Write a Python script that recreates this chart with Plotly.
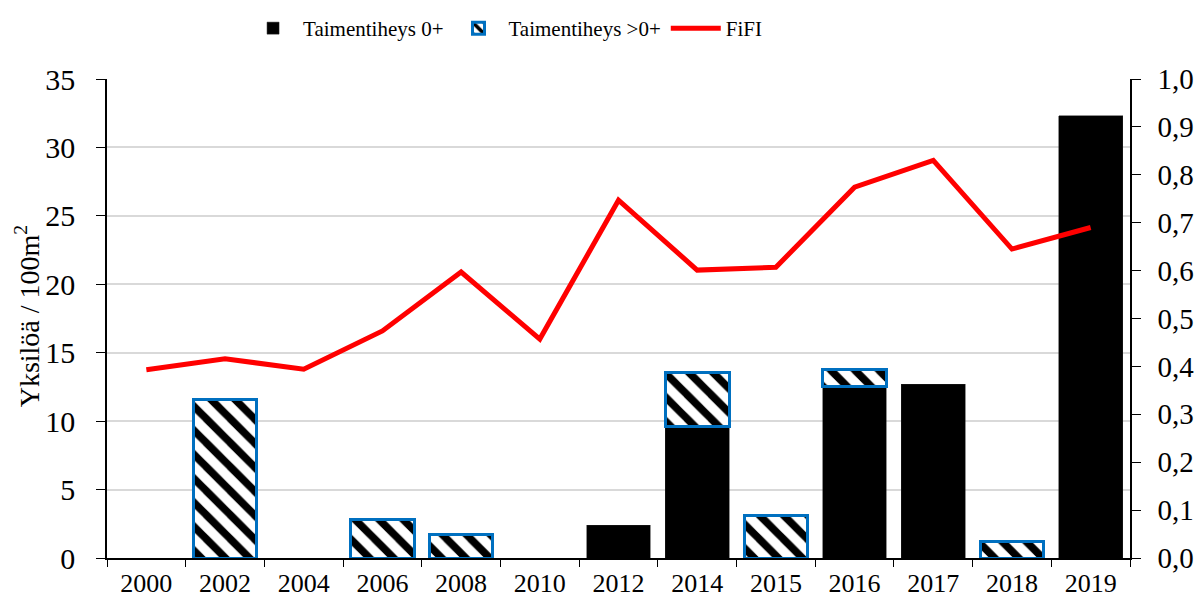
import plotly.graph_objects as go

years = ["2000", "2002", "2004", "2006", "2008", "2010", "2012",
         "2014", "2015", "2016", "2017", "2018", "2019"]
tiheys_0 = [None, None, None, None, None, None, 2.4,
            9.6, None, 12.5, 12.7, None, 32.3]
tiheys_yli0 = [None, 11.6, None, 2.85, 1.75, None, None,
               3.95, 3.1, 1.25, None, 1.2, None]
fifi = [0.393, 0.416, 0.394, 0.474, 0.597, 0.457, 0.747,
        0.601, 0.607, 0.774, 0.830, 0.645, 0.690]

FONT = "'Liberation Serif', 'DejaVu Serif', serif"

fig = go.Figure()

fig.add_trace(go.Bar(
    x=years, y=tiheys_0, name="Taimentiheys 0+",
    marker=dict(color="black", line=dict(color="#222222", width=0.5)),
))
fig.add_trace(go.Bar(
    x=years, y=tiheys_yli0, name="Taimentiheys >0+",
    marker=dict(color="white", line=dict(color="#0070C0", width=3),
                pattern=dict(shape="\\", fgcolor="black", bgcolor="white",
                             fgopacity=1, size=17, solidity=0.45)),
))
fig.add_trace(go.Scatter(
    x=years, y=fifi, name="FiFI", yaxis="y2", mode="lines",
    line=dict(color="#FF0000", width=5),
))

# page body has an 8px margin, so the figure is a bit smaller than the window
fig.update_layout(
    width=1195, height=593,
    margin=dict(l=99, r=73, t=71, b=43, autoexpand=False),
    paper_bgcolor="white", plot_bgcolor="white",
    font=dict(family=FONT, color="black"),
    separators=", ",
    barmode="stack", bargap=0.19,
    legend=dict(orientation="h", traceorder="normal",
                x=0.133, xanchor="left", yref="container", y=1.0, yanchor="top",
                font=dict(family=FONT, size=21), itemwidth=50),
    xaxis=dict(type="category", tickson="boundaries", ticks="outside", ticklen=7,
               tickcolor="black", showline=True, linecolor="black", linewidth=1.5,
               tickfont=dict(family=FONT, size=26), showgrid=False,
               ticklabelstandoff=1),
    yaxis=dict(range=[0, 35], dtick=5, ticks="outside", ticklen=9, tickcolor="black",
               showline=True, linecolor="black", linewidth=1.5,
               gridcolor="#D9D9D9", gridwidth=1.5, tickfont=dict(family=FONT, size=30),
               zeroline=False, ticklabelstandoff=15),
    yaxis2=dict(range=[0, 1.0], dtick=0.1, tickformat=".1f", overlaying="y", side="right",
                ticks="outside", ticklen=9, tickcolor="black",
                showline=True, linecolor="black", linewidth=1.5, showgrid=False,
                zeroline=False, tickfont=dict(family=FONT, size=29), ticklabelstandoff=11),
    yaxis3=dict(range=[0, 35], dtick=5, overlaying="y", side="left", ticks="inside",
                ticklen=9, tickcolor="black", showticklabels=False, showgrid=False,
                zeroline=False, showline=False),
    yaxis4=dict(range=[0, 1.0], dtick=0.1, overlaying="y", side="right", ticks="inside",
                ticklen=9, tickcolor="black", showticklabels=False, showgrid=False,
                zeroline=False, showline=False),
)

fig.add_annotation(
    text="Yksilöä / 100m<sup>2</sup>", textangle=-90, showarrow=False,
    xref="paper", yref="paper", x=-0.078, y=0.505, xanchor="center", yanchor="middle",
    font=dict(family=FONT, size=28),
)

fig.write_html("out.html")
